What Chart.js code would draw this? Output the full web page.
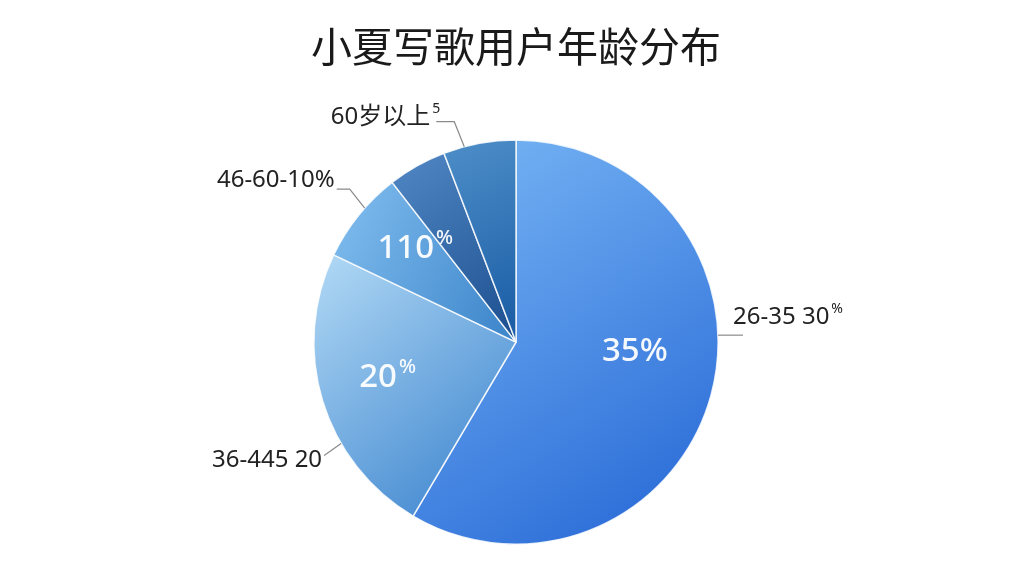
<!DOCTYPE html>
<html>
<head>
<meta charset="utf-8">
<script src="https://cdn.jsdelivr.net/npm/chart.js@4"></script>
<style>
  html, body { margin: 0; padding: 0; background: #ffffff; }
  #wrap { width: 1024px; height: 576px; }
</style>
</head>
<body>
<div id="wrap"><canvas id="agePie"></canvas></div>
<script>
const age_groups = ["26-35", "36-45", "46-60", "", "60岁以上"];
const shares = [58.5, 23.6, 7.4, 4.7, 5.8];

// text printed inside the slices (number + small superscript)
const inner_main = ["35%", "20", "110", "", ""];
const inner_sup = ["", "%", "%", "", ""];

// text printed outside with leader lines
const outer_main = ["26-35 30", "36-445 20", "46-60-10%", "", "60岁以上"];
const outer_sup = ["%", "", "", "", "5"];

// gradient stops per slice: [from dx, from dy, to dx, to dy] in radius units + colours
const grad_dirs = [
  [-0.2, -1.0, 0.9, 0.7],
  [-0.9, -0.4, -0.1, 0.6],
  [-0.9, -0.4, -0.1, 0.0],
  [-0.6, -0.9, 0.0, 0.0],
  [-0.4, -1.0, 0.0, -0.1],
];
const grad_colors = [
  ["#74b2f3", "#2e6fd9"],
  ["#acd5f3", "#4a8ed3"],
  ["#78b6ea", "#4088cc"],
  ["#5086c4", "#1b4e8e"],
  ["#4f90ca", "#1c5fa6"],
];

// label placement: [fraction along slice, radius factor]
const inner_pos = [[0.45, 0.59], [0.515, 0.66], [0.65, 0.68], null, null];
// outer: [fraction, elbow dx, elbow dy, horizontal run, text dx, text dy, align]
const outer_pos = [
  [0.418, 0, 0, 25, -10, -18, "left"],
  [0.345, -17, 12, 0, -2, 5, "right"],
  [0.6, -15, -19, -13, -2, -9, "right"],
  null,
  [0.29, -10, -25, -18, 4, -5, "right"],
];

function sliceFill(context) {
  const i = context.dataIndex;
  const area = context.chart.chartArea;
  if (!area) return grad_colors[i][1];
  const cx = (area.left + area.right) / 2;
  const cy = (area.top + area.bottom) / 2;
  const R = Math.min(area.right - area.left, area.bottom - area.top) / 2;
  const d = grad_dirs[i];
  const g = context.chart.ctx.createLinearGradient(cx + d[0] * R, cy + d[1] * R, cx + d[2] * R, cy + d[3] * R);
  g.addColorStop(0, grad_colors[i][0]);
  g.addColorStop(1, grad_colors[i][1]);
  return g;
}

// draw main text with an optional small raised part after it
function drawSupText(ctx, main, sup, x, y, align, size, color, weight) {
  const mainFont = weight + " " + size + "px 'Noto Sans', 'Noto Sans CJK SC', sans-serif";
  const supFont = weight + " " + Math.round(size * 0.6) + "px 'Noto Sans', 'Noto Sans CJK SC', sans-serif";
  ctx.font = mainFont;
  const w1 = ctx.measureText(main).width;
  ctx.font = supFont;
  const w2 = sup ? ctx.measureText(sup).width + 2 : 0;
  const total = w1 + w2;
  let left = x;
  if (align === "center") left = x - total / 2;
  if (align === "right") left = x - total;
  ctx.fillStyle = color;
  ctx.textAlign = "left";
  ctx.textBaseline = "middle";
  ctx.font = mainFont;
  ctx.fillText(main, left, y);
  if (sup) {
    ctx.font = supFont;
    ctx.fillText(sup, left + w1 + 2, y - size * 0.32);
  }
}

const ageLabels = {
  id: "ageLabels",
  afterDatasetsDraw(chart) {
    const ctx = chart.ctx;
    const arcs = chart.getDatasetMeta(0).data;
    ctx.save();
    arcs.forEach((arc, i) => {
      const a0 = arc.startAngle, a1 = arc.endAngle, R = arc.outerRadius;
      if (inner_pos[i] && inner_main[i]) {
        const ang = a0 + (a1 - a0) * inner_pos[i][0];
        const r = R * inner_pos[i][1];
        drawSupText(ctx, inner_main[i], inner_sup[i], arc.x + Math.cos(ang) * r, arc.y + Math.sin(ang) * r,
          "center", 33, "rgba(255,255,255,0.95)", "500");
      }
      if (outer_pos[i] && outer_main[i]) {
        const p = outer_pos[i];
        const ang = a0 + (a1 - a0) * p[0];
        const ax = arc.x + Math.cos(ang) * R;
        const ay = arc.y + Math.sin(ang) * R;
        const ex = ax + p[1], ey = ay + p[2];
        const hx = ex + p[3];
        ctx.strokeStyle = "#8a8a8a";
        ctx.lineWidth = 1.2;
        ctx.beginPath();
        ctx.moveTo(ax, ay);
        ctx.lineTo(ex, ey);
        ctx.lineTo(hx, ey);
        ctx.stroke();
        drawSupText(ctx, outer_main[i], outer_sup[i], hx + p[4], ey + p[5], p[6], 24, "#222222", "400");
      }
    });
    ctx.restore();
  },
};

const ctx = document.getElementById("agePie");
new Chart(ctx, {
  type: "pie",
  data: {
    labels: age_groups,
    datasets: [
      {
        data: shares,
        backgroundColor: sliceFill,
        borderColor: "rgba(255,255,255,0.85)",
        borderWidth: 1.5,
        hoverOffset: 0,
      },
    ],
  },
  options: {
    responsive: true,
    maintainAspectRatio: false,
    animation: false,
    layout: { padding: { top: 0, bottom: 31, left: 8, right: 0 } },
    plugins: {
      legend: { display: false },
      tooltip: { enabled: false },
      title: {
        display: true,
        text: "小夏写歌用户年龄分布",
        color: "#1a1a1a",
        font: { family: "'Noto Sans CJK SC', sans-serif", size: 41, weight: "400" },
        padding: { top: 22, bottom: 68 },
      },
    },
  },
  plugins: [ageLabels],
});
</script>
</body>
</html>
